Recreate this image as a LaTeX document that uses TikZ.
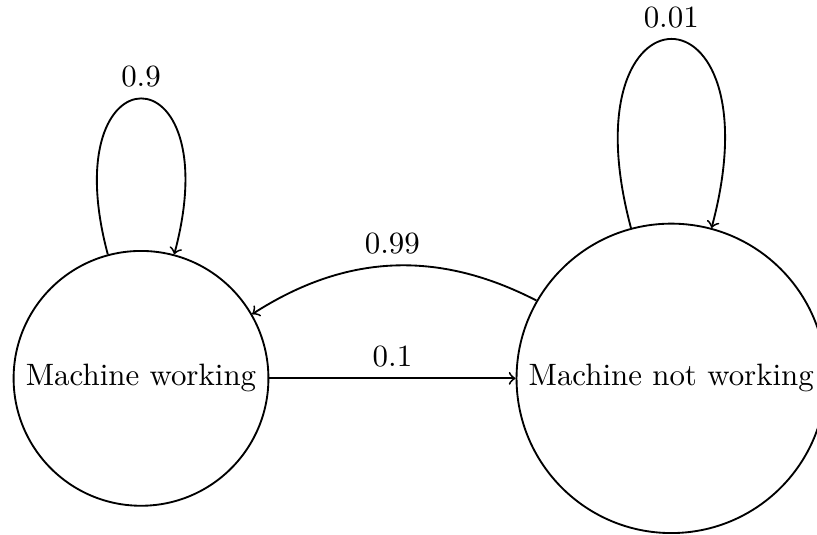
\documentclass[tikz,border=0pt]{standalone}
\usepackage{tikz}
\usetikzlibrary{arrows,automata,positioning}

\begin{document}
\begin{tikzpicture}[->, >=to, auto, node distance=2.8cm, semithick]
  \tikzstyle{every state}=[fill=white, draw=black, text=black]
  \tikzstyle{every loop}=[looseness=8.3]

  \node[state] (W)                  {Machine working};
  \node[state] (N) [right =of W]    {Machine not working};

  \path
        (W) edge [loop above]              node {0.9}  (W)
        (W) edge [above]                   node {0.1}  (N)
        (N) edge [bend right, above]       node {0.99} (W)
        (N) edge [loop above]              node {0.01} (N);

  % fix the page frame
  \coordinate (sw) at ([xshift=-4.1pt,yshift=-50.4pt]W.west |- N.center);
  \coordinate (ne) at ([xshift=-3.2pt,yshift=122.4pt]N.east |- N.center);
  \pgfresetboundingbox
  \useasboundingbox (sw) rectangle (ne);
\end{tikzpicture}
\end{document}
